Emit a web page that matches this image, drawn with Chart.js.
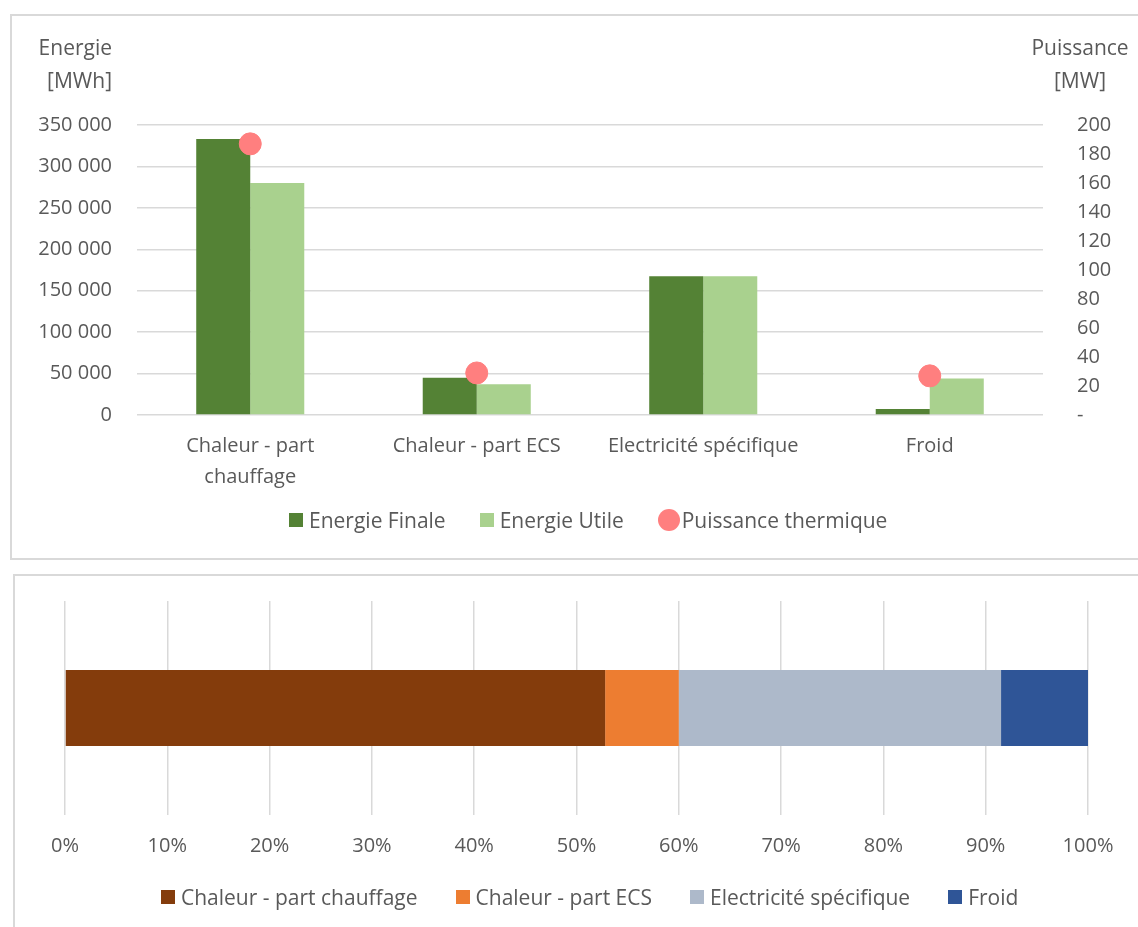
<!DOCTYPE html>
<html>
<head>
<meta charset="utf-8">
<script src="https://cdn.jsdelivr.net/npm/chart.js@4"></script>
<style>
  body { margin: 0; background: #fff; width: 1138px; height: 927px; overflow: hidden; position: relative; font-family: "Open Sans", sans-serif; color: #595959; }
  .frame { position: absolute; border: 2px solid #d9d9d9; box-sizing: border-box; }
  canvas { position: absolute; left: 0; }
  .legend { position: absolute; display: flex; align-items: center; font-size: 21px; line-height: 24px; white-space: nowrap; }
  .legend .item { display: flex; align-items: center; }
  .legend .box { width: 14px; height: 14px; margin-right: 6px; }
  .legend .dot { width: 22px; height: 22px; border-radius: 50%; margin-right: 2px; }
</style>
</head>
<body>
<div class="frame" style="left:10px; top:14px; width:1140px; height:546px;"></div>
<div class="frame" style="left:13px; top:574px; width:1140px; height:400px;"></div>
<canvas id="top" width="1138" height="560" style="top:0"></canvas>
<canvas id="bottom" width="1138" height="367" style="top:560px"></canvas>
<div class="legend" id="topLegend" style="left:289px; top:508px; gap:34px;"></div>
<div class="legend" id="bottomLegend" style="left:161px; top:885px; gap:38px;"></div>
<script>
// categories and values
const categories = [['Chaleur - part', 'chauffage'], 'Chaleur - part ECS', 'Electricité spécifique', 'Froid'];
const energieFinale = [333000, 45000, 167500, 7300];   // MWh
const energieUtile = [280000, 37000, 167500, 44000];   // MWh
const puissanceThermique = [187, 29, null, 27];        // MW

const shareLabels = ['Chaleur - part chauffage', 'Chaleur - part ECS', 'Electricité spécifique', 'Froid'];
const shareValues = [52.8, 7.2, 31.5, 8.5];            // %
const shareColors = ['#843c0c', '#ed7d31', '#adb9ca', '#2f5597'];

const textColor = '#595959';
const gridColor = '#d9d9d9';
const font = { family: 'Open Sans', size: 20 };

function spaced(v) {
    return String(v).replace(/\B(?=(\d{3})+(?!\d))/g, ' ');
}

// horizontal axis titles above both y axes
const axisTitles = {
    id: 'axisTitles',
    afterDraw(chart) {
        const ctx = chart.ctx;
        ctx.save();
        ctx.font = '21px "Open Sans"';
        ctx.fillStyle = textColor;
        ctx.textBaseline = 'middle';
        ctx.textAlign = 'right';
        ctx.fillText('Energie', 112, 49);
        ctx.fillText('[MWh]', 112, 82);
        ctx.textAlign = 'center';
        ctx.fillText('Puissance', 1080, 49);
        ctx.fillText('[MW]', 1080, 82);
        ctx.restore();
    }
};

// legend built from the chart's datasets, laid out in html
function htmlLegend(chart, el) {
    el.innerHTML = '';
    chart.data.datasets.forEach(ds => {
        const item = document.createElement('div');
        item.className = 'item';
        const mark = document.createElement('span');
        mark.className = ds.type === 'line' ? 'dot' : 'box';
        mark.style.background = ds.backgroundColor;
        const txt = document.createElement('span');
        txt.textContent = ds.label;
        item.appendChild(mark);
        item.appendChild(txt);
        el.appendChild(item);
    });
}

const topChart = new Chart(document.getElementById('top'), {
    type: 'bar',
    data: {
        labels: categories,
        datasets: [
            {
                label: 'Energie Finale',
                data: energieFinale,
                backgroundColor: '#548235',
                yAxisID: 'y',
                order: 1
            },
            {
                label: 'Energie Utile',
                data: energieUtile,
                backgroundColor: '#a9d18e',
                yAxisID: 'y',
                order: 1
            },
            {
                type: 'line',
                label: 'Puissance thermique',
                data: puissanceThermique,
                yAxisID: 'y1',
                showLine: false,
                pointRadius: 11,
                pointHoverRadius: 11,
                backgroundColor: '#ff7f7f',
                borderColor: '#ff7f7f',
                order: 0
            }
        ]
    },
    options: {
        responsive: false,
        animation: false,
        layout: { padding: { top: 125, bottom: 55, left: 0, right: 0 } },
        datasets: { bar: { categoryPercentage: 0.477, barPercentage: 1 } },
        plugins: {
            tooltip: { enabled: false },
            legend: { display: false }
        },
        scales: {
            x: {
                grid: { display: false },
                border: { display: false },
                ticks: { color: textColor, font: { family: 'Open Sans', size: 20, lineHeight: 1.55 }, padding: 8, maxRotation: 0 },
                afterFit(s) { s.height = 90; }
            },
            y: {
                position: 'left',
                min: 0, max: 350000,
                ticks: { stepSize: 50000, color: textColor, font: font, padding: 25, callback: v => spaced(v) },
                grid: { color: gridColor, lineWidth: 1.5, drawTicks: false },
                border: { display: false },
                afterFit(s) { s.width = 137; }
            },
            y1: {
                position: 'right',
                min: 0, max: 200,
                ticks: { stepSize: 20, color: textColor, font: font, padding: 34,
                         callback: v => v === 0 ? '-' : v },
                grid: { display: false, drawTicks: false },
                border: { display: false },
                afterFit(s) { s.width = 95; }
            }
        }
    },
    plugins: [axisTitles]
});
htmlLegend(topChart, document.getElementById('topLegend'));

const bottomChart = new Chart(document.getElementById('bottom'), {
    type: 'bar',
    data: {
        labels: [''],
        datasets: shareLabels.map((name, i) => ({
            label: name,
            data: [shareValues[i]],
            backgroundColor: shareColors[i]
        }))
    },
    options: {
        indexAxis: 'y',
        responsive: false,
        animation: false,
        layout: { padding: { top: 41, bottom: 52, left: 65, right: 50 } },
        datasets: { bar: { categoryPercentage: 0.355, barPercentage: 1 } },
        plugins: {
            tooltip: { enabled: false },
            legend: { display: false }
        },
        scales: {
            x: {
                stacked: true,
                min: 0, max: 100,
                ticks: { stepSize: 10, color: textColor, font: font, padding: 19, callback: v => v + '%' },
                grid: { color: gridColor, lineWidth: 1.5, drawTicks: false },
                border: { display: false },
                afterFit(s) { s.height = 60; }
            },
            y: {
                stacked: true,
                display: false
            }
        }
    }
});
htmlLegend(bottomChart, document.getElementById('bottomLegend'));
</script>
</body>
</html>
